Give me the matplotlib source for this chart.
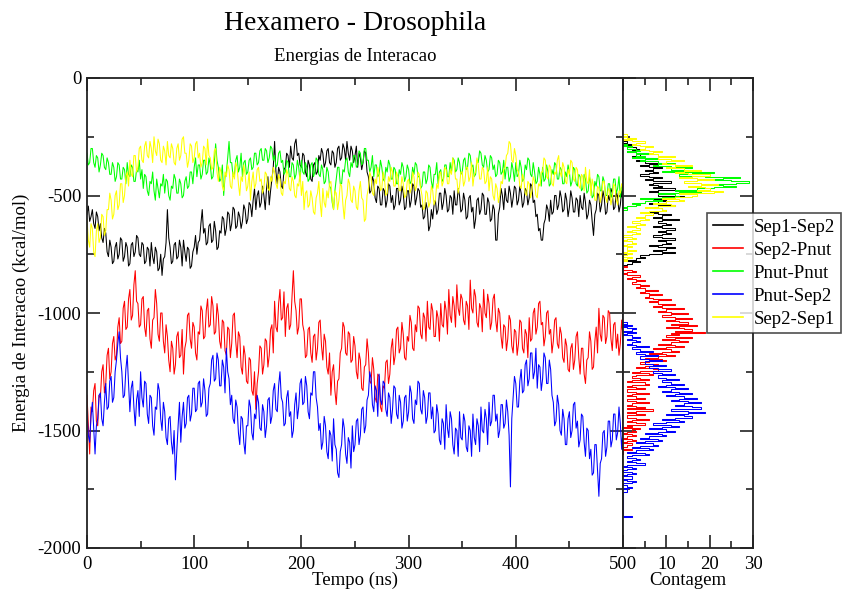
import numpy as np
import matplotlib
matplotlib.use("Agg")
import matplotlib.pyplot as plt
from matplotlib.ticker import MultipleLocator

plt.rcParams['font.family'] = ['Liberation Serif', 'DejaVu Serif']
plt.rcParams['axes.unicode_minus'] = False

# ---------------------------------------------------------------- data
# sampling times (ns), one frame every 1.25 ns
time_ns = np.arange(0, 501.25, 1.25)

series_names = ["Sep1-Sep2", "Sep2-Pnut", "Pnut-Pnut", "Pnut-Sep2", "Sep2-Sep1"]
series_colors = ["#000000", "#ff0000", "#00ff00", "#0000ff", "#ffff00"]

# interaction energies (kcal/mol)
sep1_sep2 = [
    -580, -545, -610, -590, -560, -620, -640, -570, -590, -650, -620, -680, -700, -640, -660, -740, -760, -690, -720, -790,
    -780, -720, -700, -770, -750, -680, -690, -780, -760, -700, -720, -800, -790, -710, -700, -760, -740, -670, -680, -750,
    -760, -700, -710, -790, -780, -720, -730, -800, -700, -760, -790, -720, -740, -820, -810, -750, -840, -770, -760, -700,
    -560, -680, -720, -790, -780, -710, -700, -770, -760, -690, -720, -800, -690, -740, -780, -720, -730, -810, -800, -740,
    -720, -670, -750, -700, -690, -620, -560, -660, -640, -710, -700, -630, -620, -700, -690, -610, -650, -730, -720, -650,
    -660, -590, -600, -670, -640, -570, -580, -650, -620, -550, -560, -640, -630, -570, -590, -640, -610, -540, -560, -620,
    -600, -530, -540, -590, -520, -470, -560, -500, -480, -550, -530, -460, -500, -560, -470, -420, -540, -480, -430, -380,
    -270, -400, -450, -380, -400, -460, -470, -390, -380, -320, -330, -380, -290, -340, -350, -280, -260, -330, -320, -370,
    -380, -320, -330, -400, -420, -350, -370, -430, -440, -370, -360, -410, -400, -330, -350, -300, -320, -380, -360, -310,
    -300, -360, -370, -310, -320, -380, -360, -300, -290, -350, -340, -280, -300, -350, -270, -320, -350, -290, -310, -360,
    -330, -290, -380, -320, -340, -390, -360, -310, -320, -400, -420, -490, -480, -420, -440, -510, -530, -460, -470, -540,
    -540, -470, -480, -550, -520, -450, -460, -530, -500, -560, -540, -470, -470, -540, -520, -460, -490, -560, -550, -480,
    -480, -550, -520, -450, -460, -540, -510, -470, -480, -550, -540, -600, -590, -530, -560, -650, -630, -560, -600, -540,
    -520, -580, -560, -490, -490, -560, -530, -470, -500, -570, -560, -500, -510, -580, -480, -540, -540, -470, -500, -570,
    -560, -490, -520, -600, -590, -510, -500, -570, -550, -640, -600, -520, -510, -580, -560, -490, -500, -580, -580, -510,
    -530, -610, -600, -540, -560, -690, -690, -580, -550, -470, -500, -560, -470, -520, -530, -460, -490, -550, -510, -460,
    -470, -540, -520, -460, -490, -550, -530, -470, -480, -540, -510, -450, -460, -530, -520, -590, -580, -650, -640, -690,
    -690, -620, -600, -540, -560, -610, -520, -580, -570, -500, -500, -560, -540, -480, -510, -570, -560, -490, -520, -590,
    -550, -480, -510, -570, -570, -510, -520, -590, -500, -550, -560, -490, -530, -600, -580, -520, -540, -610, -670, -580,
    -560, -490, -500, -570, -540, -480, -510, -580, -570, -500, -520, -470, -490, -560, -550, -480, -510, -570, -540, -480,
    -530,
]

sep2_pnut = [
    -1350, -1480, -1600, -1400, -1420, -1330, -1300, -1460, -1480, -1350, -1360, -1250, -1220, -1340, -1300, -1180, -1150, -1280, -1250, -1130,
    -1100, -1200, -1180, -1060, -1020, -1130, -1120, -980, -950, -1070, -1060, -940, -900, -1030, -1010, -880, -820, -950, -960, -1060,
    -1050, -940, -930, -1060, -1100, -990, -980, -1110, -1150, -1030, -1020, -900, -960, -1090, -1120, -1000, -1000, -1120, -1170, -1050,
    -1100, -1200, -1250, -1120, -1150, -1260, -1220, -1100, -1080, -1190, -1180, -1070, -1260, -1150, -1120, -1010, -1000, -1110, -1150, -1040,
    -1060, -1170, -1200, -1080, -1090, -970, -990, -1110, -1100, -990, -940, -1060, -1050, -930, -970, -1090, -1080, -960, -1010, -1120,
    -1150, -1030, -1040, -1160, -1180, -1060, -1070, -1190, -1130, -1010, -1000, -1120, -1190, -1080, -1100, -1230, -1260, -1140, -1180, -1290,
    -1300, -1190, -1200, -1330, -1350, -1250, -1410, -1300, -1250, -1140, -1150, -1260, -1220, -1110, -1120, -1230, -1180, -1070, -1050, -1170,
    -950, -1060, -1080, -960, -900, -1030, -1020, -910, -1100, -980, -960, -1070, -1050, -930, -820, -950, -990, -1090, -1060, -940,
    -940, -1050, -1080, -1190, -1180, -1070, -1060, -1170, -1210, -1100, -1090, -1200, -1150, -1040, -1030, -1140, -1200, -1090, -1120, -1230,
    -1260, -1170, -1350, -1250, -1220, -1330, -1390, -1290, -1280, -1170, -1150, -1040, -1060, -1170, -1180, -1080, -1090, -1210, -1200, -1100,
    -1140, -1250, -1280, -1170, -1200, -1320, -1330, -1230, -1220, -1110, -1170, -1290, -1300, -1190, -1240, -1360, -1380, -1260, -1270, -1400,
    -1420, -1310, -1320, -1210, -1200, -1300, -1260, -1150, -1110, -1220, -1180, -1070, -1060, -1170, -1150, -1040, -1090, -1190, -1200, -1100,
    -1120, -1010, -1040, -1150, -1160, -1050, -1080, -970, -980, -1090, -1110, -1000, -1020, -1120, -950, -1060, -1070, -960, -990, -1100,
    -1100, -990, -1020, -1120, -960, -1050, -1060, -950, -990, -1090, -900, -1010, -1040, -930, -970, -1060, -880, -980, -1010, -920,
    -940, -1030, -1050, -950, -970, -1070, -860, -980, -1000, -900, -930, -1040, -1060, -960, -980, -1080, -900, -1000, -1020, -920,
    -960, -1070, -1040, -940, -920, -1030, -1080, -980, -1000, -1100, -1150, -1050, -1060, -1160, -1110, -1010, -1030, -1140, -1170, -1070,
    -1080, -1180, -1130, -1030, -1040, -1150, -1170, -1070, -1090, -1190, -1020, -1120, -1110, -1000, -980, -1090, -1060, -960, -950, -1050,
    -1040, -1140, -1100, -1000, -990, -1090, -1070, -1170, -1120, -1030, -1020, -1130, -1150, -1060, -1090, -1190, -1210, -1110, -1140, -1240,
    -1250, -1150, -1130, -1240, -1200, -1100, -1080, -1190, -1260, -1150, -1150, -1260, -1300, -1200, -1190, -1080, -1120, -1240, -1230, -1120,
    -1060, -1170, -980, -1090, -1120, -1010, -1020, -1130, -1100, -990, -1000, -1110, -1160, -1050, -1040, -1150, -1090, -1180, -1130, -1030,
    -1100,
]

pnut_pnut = [
    -320, -370, -360, -300, -300, -360, -380, -330, -340, -400, -370, -320, -330, -380, -390, -340, -360, -410, -410, -360,
    -380, -440, -420, -360, -370, -430, -430, -380, -390, -450, -360, -410, -420, -370, -380, -440, -440, -390, -400, -350,
    -430, -390, -470, -410, -420, -480, -500, -440, -450, -400, -480, -520, -430, -470, -510, -450, -460, -410, -490, -430,
    -440, -500, -520, -460, -470, -410, -430, -490, -490, -430, -450, -510, -500, -440, -420, -470, -460, -400, -400, -450,
    -380, -340, -420, -370, -370, -430, -410, -350, -350, -410, -400, -340, -370, -430, -420, -360, -280, -350, -380, -440,
    -430, -370, -500, -420, -400, -340, -270, -360, -360, -420, -410, -350, -330, -400, -380, -320, -420, -360, -350, -410,
    -400, -350, -340, -390, -380, -320, -320, -370, -360, -310, -300, -350, -350, -300, -310, -360, -340, -290, -300, -350,
    -330, -380, -370, -320, -310, -360, -350, -410, -400, -350, -360, -420, -420, -360, -370, -430, -410, -350, -380, -440,
    -350, -400, -410, -360, -380, -440, -430, -370, -360, -420, -400, -340, -350, -410, -420, -370, -390, -450, -440, -380,
    -400, -460, -470, -530, -560, -480, -430, -380, -380, -450, -450, -390, -400, -350, -340, -400, -420, -360, -380, -330,
    -330, -380, -370, -310, -320, -370, -360, -300, -300, -350, -350, -400, -380, -330, -420, -370, -370, -420, -410, -350,
    -380, -430, -440, -380, -400, -350, -370, -430, -430, -380, -390, -450, -450, -390, -410, -360, -380, -440, -420, -370,
    -390, -450, -440, -380, -410, -360, -370, -420, -420, -470, -460, -400, -400, -450, -430, -370, -380, -440, -470, -410,
    -410, -360, -450, -400, -390, -440, -430, -370, -370, -420, -420, -360, -400, -340, -350, -400, -390, -340, -360, -410,
    -400, -350, -340, -390, -380, -320, -330, -380, -370, -420, -410, -350, -360, -310, -320, -370, -380, -330, -350, -400,
    -390, -330, -340, -390, -370, -420, -410, -350, -360, -410, -400, -350, -430, -380, -380, -440, -420, -360, -390, -440,
    -360, -420, -410, -350, -380, -440, -430, -370, -390, -340, -350, -410, -420, -360, -400, -450, -440, -380, -410, -460,
    -380, -440, -430, -370, -400, -460, -450, -390, -410, -360, -370, -430, -430, -380, -390, -450, -450, -400, -420, -370,
    -400, -460, -440, -380, -390, -450, -460, -410, -420, -480, -470, -410, -430, -490, -480, -420, -450, -510, -500, -440,
    -460, -410, -420, -480, -480, -420, -440, -500, -500, -450, -450, -510, -490, -430, -430, -490, -470, -420, -510, -460,
    -470,
]

pnut_sep2 = [
    -1420, -1520, -1550, -1440, -1380, -1490, -1600, -1480, -1450, -1350, -1340, -1450, -1480, -1380, -1300, -1410, -1400, -1290, -1270, -1380,
    -1360, -1250, -1200, -1130, -1080, -1190, -1250, -1360, -1350, -1240, -1180, -1300, -1420, -1320, -1290, -1400, -1480, -1370, -1330, -1440,
    -1250, -1360, -1400, -1290, -1300, -1430, -1470, -1350, -1360, -1480, -1520, -1400, -1410, -1300, -1330, -1450, -1500, -1380, -1420, -1530,
    -1560, -1450, -1440, -1550, -1600, -1500, -1710, -1590, -1480, -1380, -1550, -1440, -1380, -1490, -1470, -1360, -1350, -1460, -1430, -1320,
    -1320, -1420, -1410, -1300, -1290, -1400, -1380, -1280, -1330, -1440, -1430, -1320, -1300, -1200, -1180, -1290, -1280, -1170, -1200, -1310,
    -1310, -1200, -1230, -1340, -1150, -1250, -1280, -1390, -1350, -1450, -1470, -1370, -1400, -1510, -1560, -1440, -1450, -1550, -1600, -1480,
    -1480, -1370, -1400, -1510, -1540, -1430, -1450, -1350, -1380, -1490, -1500, -1390, -1420, -1530, -1480, -1370, -1360, -1470, -1440, -1330,
    -1300, -1410, -1420, -1310, -1250, -1360, -1380, -1480, -1470, -1360, -1330, -1440, -1420, -1530, -1500, -1390, -1340, -1450, -1400, -1300,
    -1280, -1390, -1380, -1270, -1310, -1420, -1450, -1340, -1350, -1250, -1250, -1360, -1400, -1500, -1470, -1580, -1550, -1440, -1480, -1590,
    -1620, -1500, -1520, -1630, -1450, -1560, -1580, -1680, -1700, -1590, -1560, -1450, -1490, -1600, -1640, -1530, -1550, -1660, -1480, -1590,
    -1560, -1460, -1450, -1560, -1520, -1410, -1400, -1510, -1480, -1370, -1350, -1250, -1280, -1390, -1420, -1310, -1330, -1440, -1260, -1370,
    -1390, -1290, -1300, -1410, -1440, -1340, -1360, -1470, -1410, -1310, -1320, -1430, -1450, -1350, -1380, -1490, -1460, -1360, -1350, -1460,
    -1420, -1310, -1340, -1450, -1470, -1370, -1390, -1290, -1300, -1410, -1430, -1330, -1360, -1470, -1440, -1340, -1340, -1450, -1400, -1510,
    -1500, -1390, -1430, -1540, -1560, -1450, -1470, -1580, -1390, -1490, -1530, -1420, -1450, -1560, -1600, -1490, -1500, -1610, -1420, -1530,
    -1540, -1430, -1460, -1570, -1590, -1480, -1500, -1610, -1430, -1530, -1560, -1450, -1480, -1590, -1400, -1500, -1510, -1410, -1450, -1560,
    -1380, -1480, -1460, -1350, -1350, -1460, -1430, -1530, -1500, -1390, -1390, -1490, -1470, -1370, -1420, -1520, -1740, -1450, -1360, -1270,
    -1300, -1400, -1400, -1290, -1240, -1340, -1330, -1220, -1200, -1310, -1280, -1170, -1170, -1280, -1250, -1150, -1320, -1220, -1230, -1330,
    -1280, -1170, -1190, -1300, -1300, -1200, -1240, -1350, -1380, -1480, -1460, -1350, -1390, -1500, -1520, -1410, -1450, -1560, -1560, -1450,
    -1420, -1530, -1500, -1390, -1380, -1490, -1460, -1570, -1540, -1430, -1440, -1550, -1610, -1490, -1500, -1620, -1580, -1690, -1680, -1560,
    -1560, -1670, -1780, -1640, -1620, -1510, -1500, -1610, -1570, -1460, -1460, -1570, -1540, -1430, -1430, -1540, -1510, -1400, -1470, -1580,
    -1490,
]

sep2_sep1 = [
    -600, -690, -720, -620, -640, -740, -760, -650, -620, -700, -680, -580, -590, -670, -650, -560, -560, -490, -520, -600,
    -580, -500, -480, -560, -540, -450, -450, -530, -500, -420, -400, -460, -350, -410, -420, -330, -330, -400, -380, -300,
    -290, -350, -360, -290, -270, -330, -340, -270, -300, -360, -250, -310, -330, -260, -280, -350, -360, -290, -310, -370,
    -270, -330, -340, -280, -300, -360, -370, -300, -280, -350, -330, -260, -250, -320, -320, -380, -350, -280, -290, -360,
    -340, -280, -270, -340, -320, -380, -360, -290, -300, -370, -260, -330, -340, -390, -380, -310, -300, -400, -440, -380,
    -400, -460, -480, -400, -420, -370, -390, -460, -470, -400, -430, -360, -380, -450, -500, -420, -440, -370, -410, -480,
    -460, -400, -520, -440, -400, -470, -450, -390, -380, -440, -430, -490, -470, -400, -410, -470, -480, -420, -440, -380,
    -400, -450, -470, -410, -430, -490, -500, -440, -450, -390, -410, -470, -480, -420, -440, -500, -510, -450, -460, -400,
    -500, -440, -560, -490, -480, -550, -540, -480, -510, -570, -580, -510, -490, -440, -530, -590, -470, -530, -550, -480,
    -510, -450, -440, -520, -560, -480, -490, -560, -520, -450, -460, -540, -600, -520, -500, -430, -450, -520, -530, -460,
    -480, -550, -560, -480, -440, -510, -520, -610, -600, -500, -470, -400, -420, -490, -500, -430, -450, -380, -410, -480,
    -470, -400, -430, -500, -490, -420, -440, -380, -400, -460, -460, -400, -420, -480, -480, -420, -450, -510, -500, -440,
    -430, -490, -470, -400, -420, -480, -460, -400, -410, -470, -500, -560, -550, -480, -490, -550, -530, -460, -480, -540,
    -520, -450, -470, -410, -400, -460, -440, -380, -390, -450, -450, -390, -410, -340, -370, -430, -430, -490, -460, -400,
    -400, -460, -440, -380, -380, -440, -420, -360, -460, -410, -400, -340, -370, -430, -430, -380, -390, -450, -440, -380,
    -480, -420, -430, -500, -520, -450, -470, -530, -500, -440, -450, -390, -380, -330, -320, -270, -280, -350, -360, -300,
    -330, -390, -400, -460, -470, -410, -430, -490, -500, -440, -450, -510, -480, -420, -440, -500, -510, -450, -460, -400,
    -400, -340, -350, -420, -430, -370, -380, -450, -460, -400, -410, -350, -330, -400, -420, -360, -380, -440, -450, -390,
    -410, -350, -360, -430, -440, -380, -390, -460, -470, -410, -420, -480, -380, -440, -450, -390, -500, -430, -460, -520,
    -520, -460, -470, -530, -500, -440, -440, -510, -530, -470, -480, -540, -510, -450, -460, -520, -540, -480, -490, -450,
    -470,
]

# energy histograms: upper edge of the first bin (kcal/mol) and counts
# for consecutive 5 kcal/mol bins going downwards
hist_bin_width = 5
hist_sep1_sep2_top = -270
hist_sep1_sep2 = [
    1, 0, 2, 0, 1, 3, 4, 2, 1, 3, 6, 4, 2, 4, 7, 5, 3, 5, 8, 6,
    4, 6, 9, 7, 5, 7, 8, 6, 4, 6, 9, 7, 5, 7, 11, 7, 6, 8, 9, 7,
    12, 8, 6, 8, 10, 8, 14, 11, 7, 9, 10, 8, 6, 8, 12, 8, 7, 9, 10, 8,
    6, 8, 11, 9, 7, 9, 13, 9, 8, 10, 11, 9, 7, 9, 12, 10, 8, 10, 11, 9,
    7, 9, 12, 12, 8, 10, 11, 9, 6, 8, 12, 10, 7, 9, 12, 9, 6, 4, 5, 3,
    3, 1, 4, 2, 1, 0,
]
hist_sep2_pnut_top = -800
hist_sep2_pnut = [
    1, 0, 0, 2, 3, 1, 0, 1, 4, 2, 1, 3, 5, 3, 2, 4, 6, 4, 3, 5,
    8, 5, 4, 6, 9, 6, 5, 7, 11, 8, 6, 8, 12, 9, 7, 9, 14, 10, 8, 11,
    15, 11, 9, 12, 16, 12, 10, 13, 15, 11, 17, 13, 10, 14, 16, 12, 19, 11, 13, 10,
    16, 12, 9, 13, 15, 11, 8, 12, 14, 10, 7, 11, 13, 9, 6, 10, 12, 8, 5, 9,
    10, 6, 4, 8, 9, 5, 3, 7, 8, 4, 2, 6, 7, 3, 2, 4, 6, 2, 1, 5,
    6, 2, 1, 3, 5, 1, 1, 3, 6, 2, 1, 3, 5, 1, 1, 3, 6, 2, 1, 3,
    5, 1, 7, 3, 1, 3, 5, 1, 1, 3, 6, 2, 1, 3, 5, 1, 2, 0, 4, 2,
    3, 1, 0, 2, 3, 1, 0, 2, 3, 1, 0, 2, 1, 1, 0, 0, 2, 0, 0, 0,
]
hist_pnut_pnut_top = -280
hist_pnut_pnut = [
    1, 0, 2, 1, 3, 4, 1, 3, 6, 3, 5, 2, 8, 5, 4, 8, 12, 8, 7, 11,
    16, 11, 14, 9, 21, 16, 13, 19, 27, 23, 19, 25, 29, 26, 19, 23, 26, 21, 17, 12,
    18, 13, 8, 12, 13, 9, 4, 7, 9, 5, 2, 4, 3, 1, 0, 1,
]
hist_pnut_sep2_top = -1040
hist_pnut_sep2 = [
    1, 0, 2, 0, 1, 3, 2, 0, 3, 1, 0, 2, 4, 2, 1, 3, 4, 2, 1, 3,
    6, 2, 2, 4, 7, 3, 3, 5, 8, 4, 4, 6, 9, 5, 5, 7, 10, 6, 6, 8,
    11, 7, 7, 9, 12, 8, 8, 10, 13, 9, 9, 11, 14, 10, 8, 12, 15, 11, 9, 13,
    16, 12, 10, 14, 17, 13, 11, 15, 18, 14, 12, 16, 18, 18, 11, 15, 19, 15, 10, 14,
    16, 12, 9, 13, 14, 10, 7, 11, 13, 9, 6, 10, 12, 8, 5, 9, 10, 6, 4, 8,
    9, 5, 3, 7, 8, 4, 2, 6, 7, 3, 1, 5, 6, 2, 1, 3, 4, 2, 1, 3,
    5, 1, 0, 2, 3, 1, 0, 2, 3, 1, 0, 2, 2, 0, 1, 3, 2, 0, 1, 1,
    2, 0, 1, 1, 0, 0, 0, 0, 0, 0, 0, 0, 0, 0, 0, 0, 0, 0, 0, 0,
    0, 0, 0, 0, 0, 2,
]
hist_sep2_sep1_top = -240
hist_sep2_sep1 = [
    1, 0, 1, 3, 0, 2, 5, 3, 2, 4, 7, 5, 4, 6, 9, 7, 6, 8, 12, 8,
    8, 11, 14, 10, 9, 12, 16, 12, 10, 14, 18, 14, 12, 15, 20, 16, 13, 17, 21, 17,
    14, 18, 22, 18, 15, 19, 20, 17, 23, 21, 13, 17, 16, 12, 9, 13, 14, 10, 7, 11,
    12, 8, 5, 9, 10, 6, 4, 7, 7, 5, 3, 5, 6, 4, 2, 4, 5, 3, 1, 3,
    4, 2, 1, 3, 4, 2, 0, 2, 3, 1, 0, 2, 3, 1, 0, 2, 1, 1, 3, 1,
    0, 2, 1, 0, 2, 1, 0, 1,
]

all_series = [sep1_sep2, sep2_pnut, pnut_pnut, pnut_sep2, sep2_sep1]
all_hists = [
    (hist_sep1_sep2_top, hist_sep1_sep2),
    (hist_sep2_pnut_top, hist_sep2_pnut),
    (hist_pnut_pnut_top, hist_pnut_pnut),
    (hist_pnut_sep2_top, hist_pnut_sep2),
    (hist_sep2_sep1_top, hist_sep2_sep1),
]


def hist_outline(top, counts, width):
    """Step outline of a histogram lying along the energy axis."""
    counts = np.asarray(counts, dtype=float)
    edges = top - width * np.arange(len(counts) + 1)
    x = np.concatenate([[0.0], np.repeat(counts, 2), [0.0]])
    y = np.concatenate([[edges[0]], np.repeat(edges, 2)[1:-1], [edges[-1]]])
    return x, y


# ---------------------------------------------------------------- figure
W, H = 842, 592
fig = plt.figure(figsize=(W / 100, H / 100), dpi=100)

x0, x1, x2 = 87, 623, 753
y_top, y_bot = 78, 548
ax = fig.add_axes([x0 / W, 1 - y_bot / H, (x1 - x0) / W, (y_bot - y_top) / H])
axh = fig.add_axes([x1 / W, 1 - y_bot / H, (x2 - x1) / W, (y_bot - y_top) / H])

for data, color in zip(all_series, series_colors):
    ax.plot(time_ns, data, color=color, lw=0.75)

for (top, counts), color, name in zip(all_hists, series_colors, series_names):
    hx, hy = hist_outline(top, counts, hist_bin_width)
    axh.plot(hx, hy, color=color, lw=0.75, label=name)

ax.set_xlim(0, 500)
ax.set_ylim(-2000, 0)
axh.set_xlim(0, 30)
axh.set_ylim(-2000, 0)

tick_fs = 13.5
for a in (ax, axh):
    for s in a.spines.values():
        s.set_linewidth(1.3)
        s.set_color("#222222")
    a.tick_params(which="both", direction="in", top=True, right=True,
                  width=1.2, color="#222222", labelsize=tick_fs)
    a.tick_params(which="major", length=9.5)
    a.tick_params(which="minor", length=5)
    a.tick_params(axis="x", pad=6)
    a.tick_params(axis="y", pad=4)

ax.xaxis.set_major_locator(MultipleLocator(100))
ax.xaxis.set_minor_locator(MultipleLocator(50))
ax.yaxis.set_major_locator(MultipleLocator(500))
ax.yaxis.set_minor_locator(MultipleLocator(250))

# the count axis starts where the time axis ends, so its "0" shares the
# spot of the time axis' "500"
axh.set_xticks([0, 10, 20, 30], ["", "10", "20", "30"])
axh.xaxis.set_minor_locator(MultipleLocator(5))
axh.yaxis.set_major_locator(MultipleLocator(500))
axh.yaxis.set_minor_locator(MultipleLocator(250))
axh.tick_params(axis="y", labelleft=False)

cx = (x0 + x1) / 2 / W
fig.text(cx, 1 - 30 / H, "Hexamero - Drosophila", ha="center",
         va="baseline", fontsize=20)
fig.text(cx, 1 - 61 / H, "Energias de Interacao", ha="center",
         va="baseline", fontsize=13.5)
fig.text(cx, 1 - 585 / H, "Tempo (ns)", ha="center", va="baseline",
         fontsize=13.5)
fig.text((x1 + x2) / 2 / W, 1 - 585 / H, "Contagem", ha="center",
         va="baseline", fontsize=13.5)
fig.text(21 / W, 1 - 313 / H, "Energia de Interacao (kcal/mol)",
         ha="center", va="center", rotation=90, fontsize=13.5)

leg = fig.legend(loc="upper left", bbox_to_anchor=(707 / W, 1 - 213 / H),
                 bbox_transform=fig.transFigure, fontsize=13.5,
                 frameon=True, fancybox=False, borderaxespad=0,
                 handlelength=1.6, handletextpad=0.6, labelspacing=0.31,
                 borderpad=0.3)
leg.get_frame().set_edgecolor("#222222")
leg.get_frame().set_linewidth(1.2)
for line in leg.get_lines():
    line.set_linewidth(1.2)

fig.savefig("out.png", dpi=100)
